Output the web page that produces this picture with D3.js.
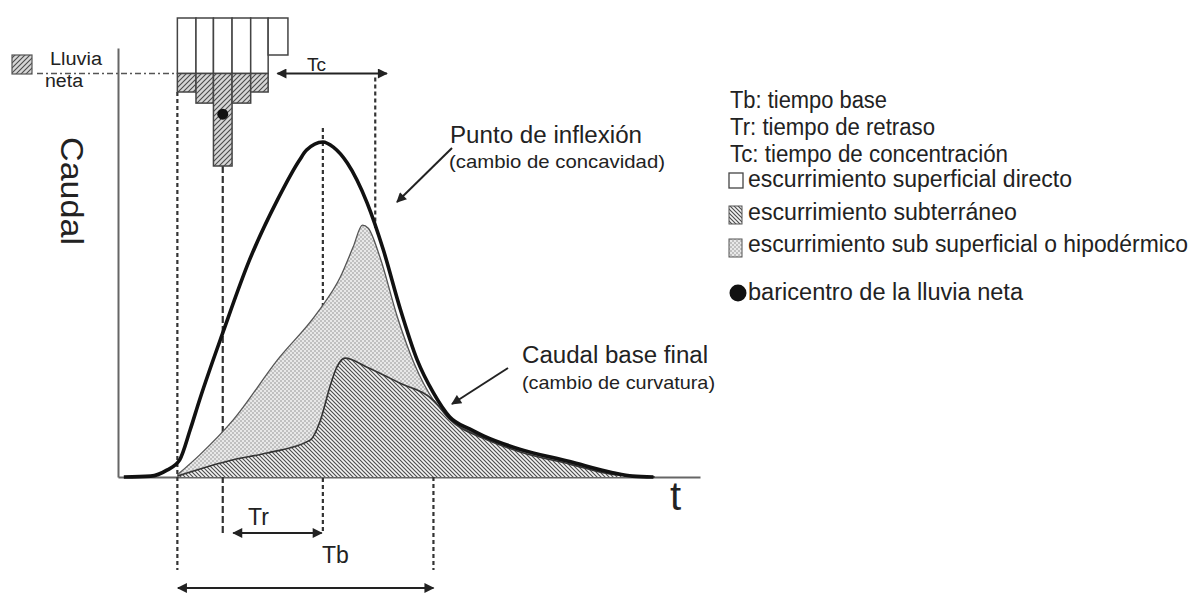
<!DOCTYPE html>
<html><head><meta charset="utf-8">
<script src="https://cdn.jsdelivr.net/npm/d3@7"></script>
<style>
body{margin:0;background:#fff}
svg{display:block}
text{font-family:"Liberation Sans",Arial,Helvetica,sans-serif;fill:#222}
</style>
</head><body>
<svg id="c" width="1192" height="593"></svg>
<script>
// ---------------- DATA ----------------
// Total hydrograph (time in h, discharge in arbitrary units)
const hydroT = [0.5, 2.8, 4.2, 5.3, 6.2, 7.0, 9.0, 11.3, 13.7, 15.6, 16.2, 17.6, 18.5, 19.7, 21.4, 22.8, 24.2, 25.7, 27.1, 28.5, 30.2, 31.4, 34.5, 38.8, 42.5, 44.2, 46.0];
const hydroQ = [0.0, 0.2, 1.6, 4.0, 11.0, 17.9, 33.6, 50.6, 64.6, 73.9, 76.2, 78.1, 76.9, 73.2, 63.9, 52.9, 39.6, 27.3, 19.6, 14.0, 11.2, 9.6, 6.5, 3.6, 1.0, 0.2, 0.0];
// Top of sub-surface (interflow) component
const subT = [5.1, 7.0, 9.9, 13.7, 17.1, 19.1, 20.2, 21.0, 21.5, 22.5, 24.0, 25.5, 27.1, 28.5, 31.4, 34.5, 38.8, 42.5, 46.1];
const subQ = [0.5, 5.1, 13.3, 27.3, 38.2, 46.6, 53.6, 58.7, 58.0, 51.3, 37.3, 26.1, 17.9, 13.6, 9.2, 6.2, 3.3, 0.8, 0.0];
// Top of groundwater (baseflow) component
const baseT = [5.1, 9.9, 12.8, 16.5, 17.4, 18.2, 18.8, 19.5, 21.4, 24.2, 27.1, 28.5, 31.4, 34.5, 38.8, 42.5, 46.1];
const baseQ = [0.2, 4.0, 5.6, 8.6, 13.3, 21.0, 25.6, 27.7, 25.6, 21.9, 17.9, 13.4, 9.0, 5.9, 3.0, 0.6, 0.0];
// Hyetograph: bar edges (h), rain depth per interval (mm), constant loss (phi index)
const rainEdges = [5.1, 6.7, 8.2, 9.8, 11.4, 12.9, 14.6];
const rainDepth = [20, 23, 40, 23, 20, 10];
const phiIndex = 15;
const centroid = {t: 9.0, depth: 26};
// Characteristic times (h)
const tStart = 5.1, tCentroid = 9.0, tPeak = 17.6, tInflex = 22.1, tEndDirect = 27.1;
const tcSpan = [13.7, 23.1], trSpan = [9.9, 17.5], tbSpan = [5.15, 27.1];
// Texts
const legendLines = ["Tb: tiempo base", "Tr: tiempo de retraso", "Tc: tiempo de concentración"];
const legendItems = ["escurrimiento superficial directo", "escurrimiento subterráneo", "escurrimiento sub superficial o hipodérmico", "baricentro de la lluvia neta"];

// ---------------- SCALES ----------------
const svg = d3.select("#c");
const x = d3.scaleLinear().domain([0, 50]).range([118, 700]);
const y = d3.scaleLinear().domain([0, 100]).range([477, 48]);
const yr = d3.scaleLinear().domain([0, 40]).range([18, 166]);

// ---------------- PATTERNS / MARKERS ----------------
const defs = svg.append("defs");
// net rain hatch "/"
const pr = defs.append("pattern").attr("id","hRain").attr("patternUnits","userSpaceOnUse").attr("width",5).attr("height",5);
pr.append("rect").attr("width",5).attr("height",5).attr("fill","#d6d6d6");
pr.append("path").attr("d","M0,5L5,0M-1,1L1,-1M4,6L6,4").attr("stroke","#4a4a4a").attr("stroke-width",1.1);
// groundwater hatch "\"
const pg = defs.append("pattern").attr("id","hBase").attr("patternUnits","userSpaceOnUse").attr("width",4).attr("height",4);
pg.append("rect").attr("width",4).attr("height",4).attr("fill","#f4f4f4");
pg.append("path").attr("d","M0,0L4,4M-1,3L1,5M3,-1L5,1").attr("stroke","#4d4d4d").attr("stroke-width",1.15);
// sub-surface checker
const pc = defs.append("pattern").attr("id","hSub").attr("patternUnits","userSpaceOnUse").attr("width",4).attr("height",4);
pc.append("rect").attr("width",4).attr("height",4).attr("fill","#e8e8e8");
pc.append("rect").attr("width",2).attr("height",2).attr("fill","#c0c0c0");
pc.append("rect").attr("x",2).attr("y",2).attr("width",2).attr("height",2).attr("fill","#c0c0c0");

defs.append("marker").attr("id","ah").attr("viewBox","0 0 10 10").attr("refX",9).attr("refY",5)
  .attr("markerWidth",13).attr("markerHeight",10).attr("markerUnits","userSpaceOnUse").attr("orient","auto-start-reverse")
  .append("path").attr("d","M0,0L10,5L0,10z").attr("fill","#222");

// ---------------- AXES ----------------
const gx = svg.append("g").attr("transform",`translate(0,${y(0)})`).call(d3.axisBottom(x).ticks(0).tickSizeOuter(0));
const gy = svg.append("g").attr("transform",`translate(${x(0)},0)`).call(d3.axisLeft(y).ticks(0).tickSizeOuter(0));
[gx,gy].forEach(g=>g.select(".domain").attr("stroke","#666").attr("stroke-width",2));

svg.append("text").attr("transform",`translate(72,191) rotate(90)`).attr("text-anchor","middle").attr("dominant-baseline","central")
  .attr("font-size",32).attr("textLength",108).attr("lengthAdjust","spacingAndGlyphs").attr("fill","#333").text("Caudal");
svg.append("text").attr("x",670).attr("y",510).attr("font-size",40).attr("fill","#333").text("t");

// ---------------- GUIDE LINES (below areas) ----------------
const vline = (t, y1, y2, dash) => svg.append("line").attr("x1",x(t)).attr("x2",x(t)).attr("y1",y1).attr("y2",y2)
  .attr("stroke","#333").attr("stroke-width",2.2).attr("stroke-dasharray",dash);
vline(tStart, yr(rainDepth[0]), 570, "4,3");
vline(tCentroid, yr(rainDepth[2]), 535, "7,3");
vline(tPeak, 128, 532, "4,3");
vline(tInflex, yr(phiIndex)+4, 228, "4,3");
vline(tEndDirect, 400, 570, "4,3");

// ---------------- AREAS ----------------
const area = d3.area().x(d=>x(d[0])).y0(y(0)).y1(d=>y(d[1])).curve(d3.curveMonotoneX);
const line = d3.line().x(d=>x(d[0])).y(d=>y(d[1])).curve(d3.curveMonotoneX);
const subPts = subT.map((t,i)=>[t,subQ[i]]);
const basePts = baseT.map((t,i)=>[t,baseQ[i]]);
const hydroPts = hydroT.map((t,i)=>[t,hydroQ[i]]);
svg.append("path").attr("d",area(subPts)).attr("fill","url(#hSub)");
svg.append("path").attr("d",line(subPts)).attr("fill","none").attr("stroke","#555").attr("stroke-width",1.3);
svg.append("path").attr("d",area(basePts)).attr("fill","url(#hBase)");
svg.append("path").attr("d",line(basePts)).attr("fill","none").attr("stroke","#333").attr("stroke-width",1.6);
svg.append("path").attr("d",line(hydroPts)).attr("fill","none").attr("stroke","#111").attr("stroke-width",3.6).attr("stroke-linejoin","round");

// ---------------- HYETOGRAPH ----------------
const bars = rainDepth.map((d,i)=>({x0:rainEdges[i], x1:rainEdges[i+1], d}));
svg.append("g").selectAll("rect").data(bars).join("rect")
  .attr("x",b=>x(b.x0)).attr("width",b=>x(b.x1)-x(b.x0))
  .attr("y",yr(0)).attr("height",b=>yr(Math.min(b.d,phiIndex))-yr(0))
  .attr("fill","#fff").attr("stroke","#444").attr("stroke-width",1.5);
svg.append("g").selectAll("rect").data(bars.filter(b=>b.d>phiIndex)).join("rect")
  .attr("x",b=>x(b.x0)).attr("width",b=>x(b.x1)-x(b.x0))
  .attr("y",yr(phiIndex)).attr("height",b=>yr(b.d)-yr(phiIndex))
  .attr("fill","url(#hRain)").attr("stroke","#444").attr("stroke-width",1.5);
svg.append("circle").attr("cx",x(centroid.t)).attr("cy",yr(centroid.depth)).attr("r",5.5).attr("fill","#111");

// phi line + net rain legend
svg.append("line").attr("x1",37).attr("x2",x(rainEdges[0])).attr("y1",yr(phiIndex)).attr("y2",yr(phiIndex))
  .attr("stroke","#555").attr("stroke-width",1.5).attr("stroke-dasharray","6,3,2,3");
svg.append("rect").attr("x",12).attr("y",55).attr("width",20).attr("height",19).attr("fill","url(#hRain)").attr("stroke","#555").attr("stroke-width",1.2);
svg.append("text").attr("x",50).attr("y",65).attr("font-size",18).attr("textLength",52).attr("lengthAdjust","spacingAndGlyphs").attr("fill","#333").text("Lluvia");
svg.append("text").attr("x",45).attr("y",87).attr("font-size",18).attr("textLength",38).attr("lengthAdjust","spacingAndGlyphs").attr("fill","#333").text("neta");

// ---------------- DOUBLE ARROWS ----------------
const darrow = (span, yy) => svg.append("line").attr("x1",x(span[0])).attr("x2",x(span[1])).attr("y1",yy).attr("y2",yy)
  .attr("stroke","#222").attr("stroke-width",2).attr("marker-start","url(#ah)").attr("marker-end","url(#ah)");
darrow(tcSpan, yr(phiIndex));
darrow(trSpan, 533);
darrow(tbSpan, 588);
svg.append("text").attr("x",307).attr("y",71).attr("font-size",19).text("Tc");
svg.append("text").attr("x",248).attr("y",525).attr("font-size",23).text("Tr");
svg.append("text").attr("x",322).attr("y",563).attr("font-size",23).text("Tb");

// ---------------- ANNOTATIONS ----------------
const arrow = (x1,y1,x2,y2) => svg.append("line").attr("x1",x1).attr("y1",y1).attr("x2",x2).attr("y2",y2)
  .attr("stroke","#222").attr("stroke-width",2).attr("marker-end","url(#ah)");
arrow(452,148,397,202);
arrow(508,368,452,404);
const label = (tx,xx,yy,fs,len,fill) => svg.append("text").attr("x",xx).attr("y",yy).attr("font-size",fs)
  .attr("textLength",len).attr("lengthAdjust","spacingAndGlyphs").attr("fill",fill).text(tx);
label("Punto de inflexión",450,143,23,192,"#1a1a1a");
label("(cambio de concavidad)",449,168,19,216,"#333");
label("Caudal base final",522,363,23,186,"#1a1a1a");
label("(cambio de curvatura)",522,389,19,193,"#333");

// ---------------- LEGEND ----------------
const lgBase = [108,135,162];
const lgLen = [157,205,278];
legendLines.forEach((t,i)=>label(t,730,lgBase[i],23,lgLen[i],"#222"));
const itBase = [187,220,252,300];
const itLen = [324,269,440,275];
legendItems.forEach((t,i)=>label(t,748,itBase[i],23,itLen[i],"#222"));
svg.append("rect").attr("x",729).attr("y",173).attr("width",14).attr("height",15).attr("fill","#fff").attr("stroke","#444").attr("stroke-width",1.3);
svg.append("rect").attr("x",729).attr("y",206).attr("width",13).attr("height",18).attr("fill","url(#hBase)").attr("stroke","#555").attr("stroke-width",1);
svg.append("rect").attr("x",729).attr("y",239).attr("width",13).attr("height",18).attr("fill","url(#hSub)").attr("stroke","#555").attr("stroke-width",1);
svg.append("circle").attr("cx",738).attr("cy",293).attr("r",8.5).attr("fill","#111");
</script>
</body></html>
